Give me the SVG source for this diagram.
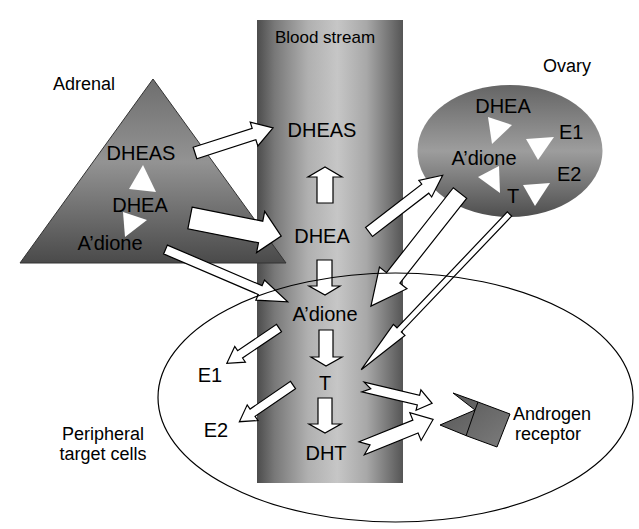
<svg xmlns="http://www.w3.org/2000/svg" width="639" height="529" viewBox="0 0 639 529">
  <defs>
    <linearGradient id="gCol" x1="0" y1="0" x2="1" y2="0">
      <stop offset="0" stop-color="#4c4c4c"/>
      <stop offset="0.12" stop-color="#787878"/>
      <stop offset="0.35" stop-color="#b0b0b0"/>
      <stop offset="0.55" stop-color="#c6c6c6"/>
      <stop offset="0.75" stop-color="#a8a8a8"/>
      <stop offset="0.9" stop-color="#777777"/>
      <stop offset="1" stop-color="#555555"/>
    </linearGradient>
    <linearGradient id="gTri" x1="0" y1="0" x2="0" y2="1">
      <stop offset="0" stop-color="#6e6e6e"/>
      <stop offset="0.45" stop-color="#939393"/>
      <stop offset="1" stop-color="#4a4a4a"/>
    </linearGradient>
    <linearGradient id="gOva" x1="0" y1="0" x2="0" y2="1">
      <stop offset="0" stop-color="#656565"/>
      <stop offset="0.5" stop-color="#9d9d9d"/>
      <stop offset="1" stop-color="#4e4e4e"/>
    </linearGradient>
    <linearGradient id="gAR" x1="0" y1="0" x2="1" y2="1">
      <stop offset="0" stop-color="#555555"/>
      <stop offset="1" stop-color="#7c7c7c"/>
    </linearGradient>
  </defs>
  <style>
    text { font-family: "Liberation Sans", Arial, sans-serif; fill: #000; }
    .big { font-size: 20px; }
    .lab { font-size: 18px; }
    .mid { text-anchor: middle; }
    .arr { fill: #fff; stroke: #000; stroke-width: 1.2; stroke-linejoin: miter; }
    .wt { fill: #fff; stroke: none; }
  </style>

  <g id="blood-stream">
    <rect x="257" y="20" width="146" height="463" fill="url(#gCol)"/>
    <text class="lab mid" x="325" y="43" style="font-size:17px">Blood stream</text>
  </g>

  <g id="adrenal">
    <polygon points="153,79 286,263 20,263" fill="url(#gTri)" stroke="#333" stroke-width="1"/>
    <polygon class="wt" points="143,165 129,189 156,192"/>
    <polygon class="wt" points="123,212 147,220 125,237"/>
    <text class="lab" x="53" y="90">Adrenal</text>
    <text class="big mid" x="141" y="160">DHEAS</text>
    <text class="big mid" x="140" y="212">DHEA</text>
    <text class="big mid" x="110" y="250">A’dione</text>
  </g>

  <g id="ovary">
    <ellipse cx="510" cy="151" rx="92.5" ry="66" fill="url(#gOva)"/>
    <polygon class="wt" points="488,117 512,125 492,144"/>
    <polygon class="wt" points="526,139 554,137 538,160"/>
    <polygon class="wt" points="478,177 499,166 500,193"/>
    <polygon class="wt" points="523,185 550,183 535,206"/>
    <text class="lab" x="543" y="72">Ovary</text>
    <text class="big mid" x="503" y="113">DHEA</text>
    <text class="big" x="559" y="139">E1</text>
    <text class="big mid" x="484" y="165">A’dione</text>
    <text class="big" x="557" y="181">E2</text>
    <text class="big mid" x="513" y="203">T</text>
  </g>

  <g id="androgen-receptor">
    <polygon points="453,393 478,402 510,414 497,447 467,436 440,425 475,410" fill="url(#gAR)" stroke="#000" stroke-width="1"/>
    <polyline points="478,402 475,410 466,436" fill="none" stroke="#000" stroke-width="1"/>
    <text class="lab" x="513" y="420">Androgen</text>
    <text class="lab" x="515" y="440">receptor</text>
  </g>

  <g id="connectors">
    <polygon class="arr" transform="translate(195,153) rotate(-17.8)" points="0,-6 62,-6 62,-12.5 82,0 62,12.5 62,6 0,6"/>
    <polygon class="arr" transform="translate(190,218) rotate(11.2)" points="0,-11 72,-11 72,-21 93,0 72,21 72,11 0,11"/>
    <polygon class="arr" transform="translate(165.5,249.5) rotate(23.2)" points="0,-4.8 103,-4.8 103,-11 133,0 103,11 103,4.8 0,4.8"/>
    <polygon class="arr" transform="translate(369,232) rotate(-37.6)" points="0,-5.7 71,-5.7 71,-10.5 93,0 71,10.5 71,5.7 0,5.7"/>
    <polygon class="arr" transform="translate(460,193) rotate(128.2)" points="0,-8.5 108,-8.5 108,-17.5 144,0 108,17.5 108,8.5 0,8.5"/>
    <polygon class="arr" transform="translate(509.5,214) rotate(133.6)" points="0,-3 160,-3 160,-8 215,0 160,8 160,3 0,3"/>
    <polygon class="arr" points="317,203 317,177 308,177 325,167 342,177 333,177 333,203"/>
    <polygon class="arr" points="317,260 332,260 332,286 340,286 325,295 309,286 317,286"/>
    <polygon class="arr" points="319,330 333,330 333,357 342,357 326,366 311,357 319,357"/>
    <polygon class="arr" points="318,398 332,398 332,424 341,424 325,433 309,424 318,424"/>
    <polygon class="arr" transform="translate(279,328) rotate(145.9)" points="0,-4.4 47,-4.4 47,-9.5 63,0 47,9.5 47,4.4 0,4.4"/>
    <polygon class="arr" transform="translate(293,385) rotate(145.6)" points="0,-4.4 49,-4.4 49,-9.5 65,0 49,9.5 49,4.4 0,4.4"/>
    <polygon class="arr" transform="translate(363,387) rotate(13.3)" points="0,-5 57,-5 57,-10.5 71,0 57,10.5 57,5 0,5 8,0"/>
    <polygon class="arr" transform="translate(361.7,448.3) rotate(-22)" points="0,-7 58,-7 58,-15 77,0 58,15 58,7 0,7 9,0"/>
  </g>

  <g id="peripheral-target-cells">
    <ellipse cx="395.5" cy="397.5" rx="237.5" ry="124.5" fill="none" stroke="#000" stroke-width="1.2"/>
    <text class="lab mid" x="103" y="440">Peripheral</text>
    <text class="lab mid" x="103" y="460">target cells</text>
  </g>

  <g id="column-labels">
    <text class="big mid" x="322" y="137">DHEAS</text>
    <text class="big mid" x="322" y="243">DHEA</text>
    <text class="big mid" x="325" y="321">A’dione</text>
    <text class="big mid" x="325" y="390">T</text>
    <text class="big mid" x="326" y="460">DHT</text>
    <text class="big mid" x="210" y="382">E1</text>
    <text class="big mid" x="216" y="437">E2</text>
  </g>
</svg>
